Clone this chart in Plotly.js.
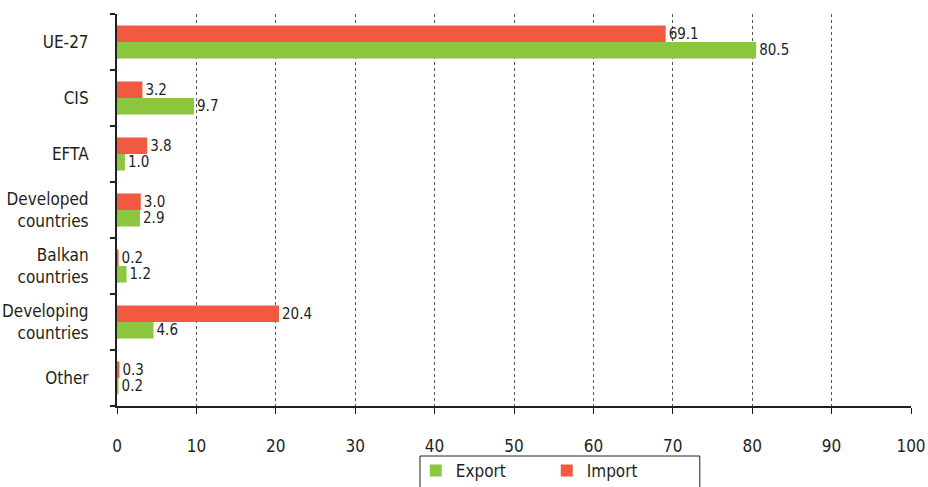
<!DOCTYPE html>
<html><head><meta charset="utf-8">
<script src="https://cdn.plot.ly/plotly-3.0.1.min.js"></script>
<style>body{margin:0;padding:0;background:#fff}#chart{width:928px;height:487px}</style>
</head><body><div id="chart"></div>
<script>
const categories = ["UE-27", "CIS", "EFTA", "Developed<br>countries", "Balkan<br>countries", "Developing<br>countries", "Other"];
const exportVals = [80.5, 9.7, 1.0, 2.9, 1.2, 4.6, 0.2];
const importVals = [69.1, 3.2, 3.8, 3.0, 0.2, 20.4, 0.3];
const xTicks = [0, 10, 20, 30, 40, 50, 60, 70, 80, 90, 100];

const FONT = "'Liberation Sans Narrow', 'Arial Narrow', 'DejaVu Sans Condensed', sans-serif";
const fmt = v => v.toFixed(1);

const traces = [
  {type: 'bar', orientation: 'h', name: 'Export', y: categories, x: exportVals,
   marker: {color: '#8DC63F'}, text: exportVals.map(fmt), textposition: 'outside',
   constraintext: 'none',
   textfont: {size: 15, color: '#231F20', family: FONT}, cliponaxis: false, hoverinfo: 'none'},
  {type: 'bar', orientation: 'h', name: 'Import', y: categories, x: importVals,
   marker: {color: '#F15A40'}, text: importVals.map(fmt), textposition: 'outside',
   constraintext: 'none',
   textfont: {size: 15, color: '#231F20', family: FONT}, cliponaxis: false, hoverinfo: 'none'}
];

const layout = {
  width: 928, height: 487,
  margin: {l: 117, r: 17, t: 14, b: 81, autoexpand: false},
  paper_bgcolor: '#fff', plot_bgcolor: '#fff',
  font: {family: FONT, color: '#231F20', size: 17},
  barmode: 'group', bargap: 0.41, bargroupgap: 0,
  showlegend: true,
  legend: {orientation: 'h', xref: 'container', yref: 'container',
           x: 0.448, xanchor: 'left', y: 0.033, yanchor: 'middle',
           borderwidth: 0, entrywidth: 86, bgcolor: 'rgba(0,0,0,0)',
           font: {size: 17, family: FONT, color: '#231F20'}},
  shapes: [{type: 'rect', xref: 'paper', yref: 'paper',
            x0: 0.3816, x1: 0.734, y0: -0.1276, y1: -0.225,
            line: {color: '#231F20', width: 1}, fillcolor: 'rgba(0,0,0,0)', layer: 'below'}],
  xaxis: {range: [0, 100], tickvals: xTicks, ticktext: xTicks.map(String),
          showgrid: true, gridcolor: '#555', griddash: 'dot', gridwidth: 1,
          showline: true, linecolor: '#231F20', linewidth: 2,
          ticks: 'outside', ticklen: 6, tickcolor: '#231F20', tickwidth: 1,
          ticklabelstandoff: 18,
          zeroline: false, tickfont: {size: 17, family: FONT}, fixedrange: true},
  yaxis: {categoryorder: 'array', categoryarray: categories.slice().reverse(),
          showline: true, linecolor: '#231F20', linewidth: 2,
          ticks: 'outside', tickson: 'boundaries', ticklen: 5, tickcolor: '#231F20', tickwidth: 2,
          ticklabelstandoff: 23, showgrid: false, zeroline: false,
          tickfont: {size: 17, family: FONT}, fixedrange: true}
};

Plotly.newPlot('chart', traces, layout, {displayModeBar: false, staticPlot: true});
</script></body></html>
